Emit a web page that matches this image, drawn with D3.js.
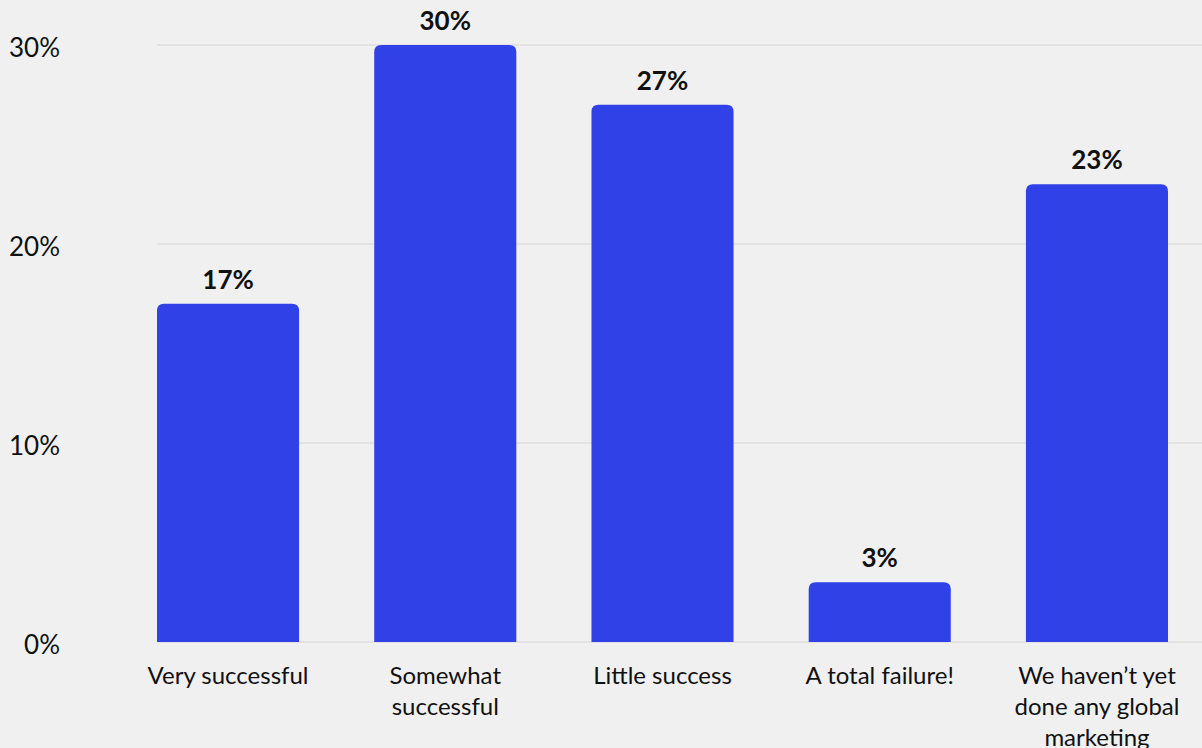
<!DOCTYPE html>
<html>
<head>
<meta charset="utf-8">
<script src="https://cdn.jsdelivr.net/npm/d3@7"></script>
<style>
  html, body { margin: 0; padding: 0; background: #f0f0f0; }
  svg { display: block; font-family: "Lato", "Noto Sans", sans-serif; }
</style>
</head>
<body>
<svg id="chart" width="1202" height="748"></svg>
<script>
// Survey answers: how successful has global marketing been?
const categories = [
  "Very successful",
  "Somewhat successful",
  "Little success",
  "A total failure!",
  "We haven’t yet done any global marketing"
];
const shares = [17, 30, 27, 3, 23];
const yTicks = [0, 10, 20, 30];

const width = 1202, height = 748;
const plot = { left: 157, right: 1168, gridRight: 1202, top: 45, bottom: 642 };

const svg = d3.select("#chart");

const x = d3.scaleBand()
  .domain(categories)
  .range([plot.left, plot.right])
  .paddingInner(0.346)
  .paddingOuter(0);

const y = d3.scaleLinear()
  .domain([0, 30])
  .range([plot.bottom, plot.top]);

// Horizontal gridlines
svg.append("g")
  .selectAll("line")
  .data(yTicks)
  .join("line")
  .attr("x1", plot.left)
  .attr("x2", plot.gridRight)
  .attr("y1", d => y(d))
  .attr("y2", d => y(d))
  .attr("stroke", "#d6d6d6")
  .attr("stroke-width", 1);

// Y axis labels
svg.append("g")
  .selectAll("text")
  .data(yTicks)
  .join("text")
  .attr("x", 60)
  .attr("y", d => y(d))
  .attr("dy", "0.47em")
  .attr("text-anchor", "end")
  .attr("font-size", 26)
  .attr("fill", "#111")
  .text(d => d + "%");

// Bars with rounded top corners
const r = 7;
function barPath(d, i) {
  const x0 = x(categories[i]), w = x.bandwidth();
  const yt = y(d), yb = y(0);
  return `M${x0},${yb}V${yt + r}Q${x0},${yt} ${x0 + r},${yt}` +
         `H${x0 + w - r}Q${x0 + w},${yt} ${x0 + w},${yt + r}V${yb}Z`;
}
svg.append("g")
  .selectAll("path")
  .data(shares)
  .join("path")
  .attr("d", barPath)
  .attr("fill", "#3041e8");

// Value labels
svg.append("g")
  .selectAll("text")
  .data(shares)
  .join("text")
  .attr("x", (d, i) => x(categories[i]) + x.bandwidth() / 2)
  .attr("y", d => y(d) - 15)
  .attr("text-anchor", "middle")
  .attr("font-size", 26)
  .attr("font-weight", "bold")
  .attr("fill", "#111")
  .text(d => d + "%");

// Category labels, wrapped to the band width
const labels = svg.append("g")
  .selectAll("text")
  .data(categories)
  .join("text")
  .attr("x", d => x(d) + x.bandwidth() / 2)
  .attr("y", 684)
  .attr("text-anchor", "middle")
  .attr("font-size", 24)
  .attr("fill", "#111");

labels.each(function(d) {
  const text = d3.select(this);
  const words = d.split(" ");
  const maxW = 180;
  const lineH = 31;
  let line = [];
  let tspan = text.append("tspan").attr("x", text.attr("x")).attr("dy", 0);
  for (const w of words) {
    line.push(w);
    tspan.text(line.join(" "));
    if (tspan.node().getComputedTextLength() > maxW && line.length > 1) {
      line.pop();
      tspan.text(line.join(" "));
      line = [w];
      tspan = text.append("tspan").attr("x", text.attr("x")).attr("dy", lineH).text(w);
    }
  }
});
</script>
</body>
</html>
